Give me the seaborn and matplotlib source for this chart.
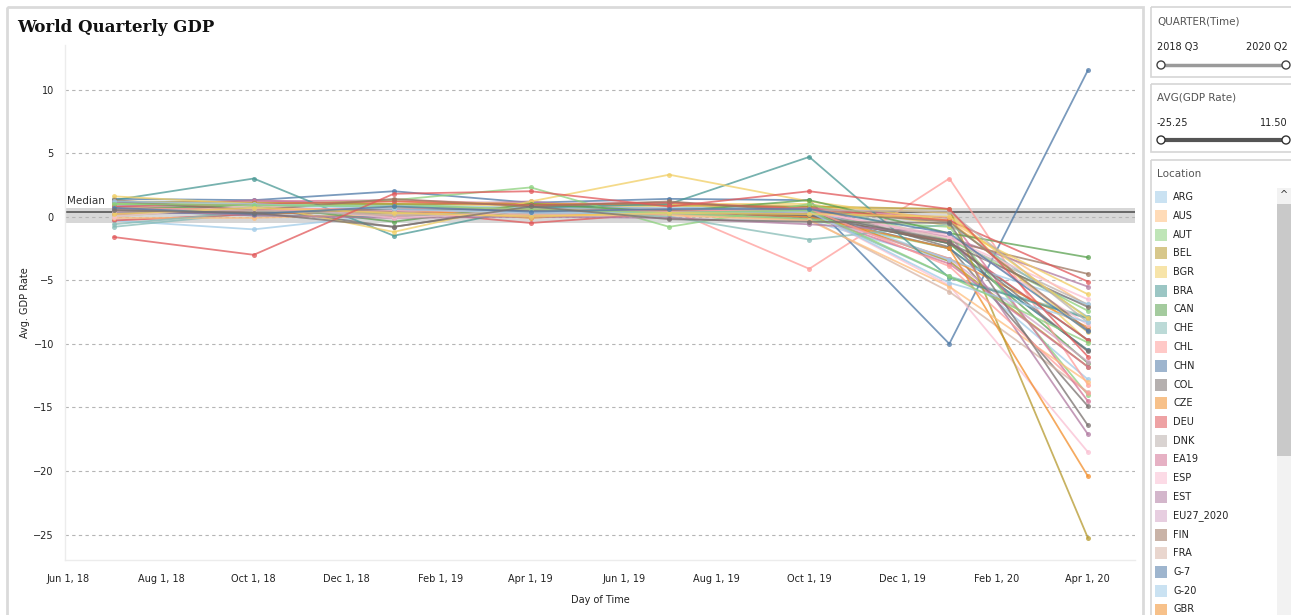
# World Quarterly GDP - Tableau style dashboard redrawn with seaborn
import numpy as np
import pandas as pd
import matplotlib
matplotlib.use('Agg')
import matplotlib.pyplot as plt
import matplotlib.dates as mdates
from matplotlib.patches import Rectangle, Circle
import seaborn as sns

# ---- data ----
quarters = ['2018-07-01', '2018-10-01', '2019-01-01', '2019-04-01',
            '2019-07-01', '2019-10-01', '2020-01-01', '2020-04-01']
quarter_labels = ['2018 Q3', '2018 Q4', '2019 Q1', '2019 Q2',
                  '2019 Q3', '2019 Q4', '2020 Q1', '2020 Q2']

locations = ['ARG', 'AUS', 'AUT', 'BEL', 'BGR', 'BRA', 'CAN', 'CHE', 'CHL', 'CHN',
             'COL', 'CZE', 'DEU', 'DNK', 'EA19', 'ESP', 'EST', 'EU27_2020', 'FIN', 'FRA',
             'G-7', 'G-20', 'GBR', 'GRC', 'HUN', 'IDN', 'IND', 'IRL', 'ISL', 'ISR',
             'ITA', 'JPN', 'KOR', 'LTU', 'LVA', 'MEX', 'NLD', 'NOR', 'OECD', 'POL',
             'PRT', 'RUS', 'SVK', 'SVN', 'SWE', 'TUR', 'USA', 'ZAF']

loc_colors = ['#a0cbe8', '#ffbe7d', '#8cd17d', '#b6992d', '#f1ce63', '#499894', '#59a14f', '#86bcb6', '#ff9d9a', '#4e79a7',
              '#79706e', '#f28e2b', '#e15759', '#bab0ac', '#d37295', '#fabfd2', '#b07aa1', '#d4a6c8', '#9d7660', '#d7b5a6',
              '#4e79a7', '#a0cbe8', '#f28e2b', '#8cd17d', '#d37295', '#f1ce63', '#b6992d', '#499894', '#f1ce63', '#8cd17d',
              '#ffbe7d', '#86bcb6', '#59a14f', '#e15759', '#79706e', '#b07aa1', '#fabfd2', '#fabfd2', '#79706e', '#9d7660',
              '#ff9d9a', '#bab0ac', '#a0cbe8', '#8cd17d', '#f1ce63', '#e15759', '#4e79a7', '#79706e']

# GDP rate per quarter, same order as locations
q3_2018 = [-0.3, 0.6, 0.4, 0.4, 0.7, 0.5, 0.6, -0.8, 0.4, 1.4,
           0.5, 0.5, -0.3, 0.8, 0.2, 0.5, 0.8, 0.3, 0.3, 0.4,
           0.4, 0.9, 0.6, 0.0, 1.1, 1.0, 1.2, 1.3, 1.6, 1.0,
           -0.1, -0.6, 0.6, 0.8, 1.2, 0.6, 0.4, 0.0, 0.5, 1.3,
           0.7, 0.5, 1.2, 1.0, 0.2, -1.6, 0.7, 0.5]
q4_2018 = [-1.0, 0.3, 0.5, 0.4, 0.8, 0.1, 0.3, 0.3, 1.0, 1.3,
           0.7, 0.7, 0.2, 0.4, 0.4, 0.6, 1.3, 0.3, 0.4, 0.6,
           0.2, 0.7, 0.2, 0.9, 1.2, 1.0, 1.1, 3.0, 1.0, 0.9,
           -0.1, 0.4, 0.9, 1.0, 0.5, 0.1, 0.5, 0.9, 0.3, 0.5,
           0.5, 0.5, 1.0, 0.9, 0.7, -3.0, 0.2, 0.3]
q1_2019 = [0.2, 0.5, 0.5, 0.3, 1.0, 0.0, 0.3, 0.6, 0.0, 2.0,
           -0.8, 0.5, 0.5, 0.3, 0.5, 0.6, 0.9, 0.5, 0.6, 0.5,
           0.6, 0.9, 0.6, 1.0, 1.3, 1.2, 1.0, -1.5, -1.2, 1.3,
           0.2, 0.6, -0.4, 1.2, 0.5, -0.1, 0.5, -0.1, 0.6, 1.4,
           0.7, 0.1, 0.6, 0.8, 0.3, 1.8, 0.8, -0.8]
q2_2019 = [0.6, 0.6, 0.1, 0.4, 0.8, 0.5, 0.8, 0.3, 0.9, 1.1,
           0.8, 0.5, -0.5, 0.7, 0.2, 0.4, 1.2, 0.2, 0.3, 0.2,
           0.4, 0.7, -0.1, 0.5, 1.0, 1.0, 1.0, 0.7, 1.2, 2.3,
           0.1, 0.5, 1.0, 0.9, 0.5, 0.0, 0.4, 0.4, 0.5, 0.8,
           0.6, 0.4, 0.3, 0.6, 0.0, 2.0, 0.4, 0.8]
q3_2019 = [0.9, 0.6, 0.2, 0.4, 0.8, 0.5, 0.3, 0.4, 0.6, 1.4,
           0.6, 0.4, 0.3, 0.6, 0.3, 0.4, 0.3, 0.3, 0.5, 0.2,
           0.4, 0.7, 0.5, 0.3, 1.1, 1.0, 0.9, 1.0, 3.3, -0.8,
           0.1, 0.0, 0.4, 1.1, 0.4, -0.1, 0.4, 0.6, 0.5, 1.2,
           0.4, 0.3, 0.3, 0.3, 0.3, 0.8, 0.6, -0.2]
q4_2019 = [-0.3, 0.5, -0.2, 0.5, 0.8, 0.4, 0.1, 0.3, -4.1, 1.3,
           0.8, 0.3, 0.0, 0.3, 0.1, 0.4, 0.4, 0.1, -0.1, -0.2,
           0.1, 0.7, 0.0, -0.2, 0.7, 1.0, 0.8, 4.7, 1.2, 1.0,
           -0.3, -1.8, 1.3, 0.6, 0.1, -0.6, 0.4, 0.5, 0.2, 0.4,
           0.6, 0.5, 0.4, 0.5, 0.2, 2.0, 0.6, -0.4]
q1_2020 = [-3.5, -0.3, -2.5, -3.5, 0.3, -2.1, -2.1, -4.7, 3.0, -10.0,
           -2.4, -3.3, -2.0, -1.8, -3.7, -5.4, -1.6, -3.3, -1.9, -5.9,
           -2.5, -3.4, -2.5, -0.8, -0.1, -0.7, 0.6, -4.8, -0.3, -1.8,
           -5.5, -0.6, -1.3, -0.3, -2.1, -1.3, -1.5, -1.7, -1.9, -0.4,
           -3.9, 0.4, -5.2, -4.7, 0.0, 0.6, -1.3, -0.5]
q2_2020 = [-12.8, -7.0, -10.5, -11.8, -9.8, -9.7, -11.5, -7.9, -13.2, 11.5,
           -14.9, -8.7, -9.7, -6.9, -11.8, -18.5, -5.5, -11.4, -4.5, -13.8,
           -10.5, -6.9, -20.4, -14.0, -14.5, -6.1, -25.25, -8.0, -9.1, -7.4,
           -13.0, -7.9, -3.2, -5.1, -7.1, -17.1, -8.5, -6.5, -10.6, -8.9,
           -13.9, -8.3, -8.3, -9.9, -8.0, -11.0, -9.0, -16.4]

# reference band drawn around the median
band_low = -0.47
band_high = 0.70

# ---- long-form table ----
series = [q3_2018, q4_2018, q1_2019, q2_2019, q3_2019, q4_2019, q1_2020, q2_2020]
rows = []
for qi, q in enumerate(quarters):
    for li, loc in enumerate(locations):
        rows.append({'Day of Time': pd.Timestamp(q), 'Location': loc, 'GDP Rate': series[qi][li]})
df = pd.DataFrame(rows)
palette = dict(zip(locations, loc_colors))
median_val = df['GDP Rate'].median()

sns.set_theme(style='white')
plt.rcParams['font.family'] = ['DejaVu Sans']

W, H = 1291, 615
fig = plt.figure(figsize=(W / 100, H / 100), dpi=100, facecolor='white')

# overlay axes in pixel coordinates for the dashboard frame and side cards
ov = fig.add_axes([0, 0, 1, 1], zorder=-1)
ov.set_xlim(0, W)
ov.set_ylim(H, 0)
ov.axis('off')

ov.add_patch(Rectangle((7, 7), 1136, 620, fill=False, edgecolor='#dadada', lw=2))

# main chart axes
left, right, top, bottom = 65, 1135, 45, 560
ax = fig.add_axes([left / W, (H - bottom) / H, (right - left) / W, (bottom - top) / H])

sns.lineplot(data=df, x='Day of Time', y='GDP Rate', hue='Location', hue_order=locations,
             palette=palette, marker='o', markersize=3.6, markeredgewidth=0,
             linewidth=1.3, alpha=0.75, legend=False, estimator=None, ax=ax)

ax.axhspan(band_low, band_high, color='#bdbdbd', alpha=0.6, lw=0, zorder=0.5)
ax.axhline(median_val, color='#555555', lw=1.2, zorder=0.6)
ax.text(0.002, median_val + 0.45, 'Median', transform=ax.get_yaxis_transform(),
        fontsize=7.5, color='#333333', ha='left', va='bottom')

ax.set_xlim(pd.Timestamp('2018-05-30'), pd.Timestamp('2020-05-02'))
ax.set_ylim(-27, 13.5)
ax.set_yticks([-25, -20, -15, -10, -5, 0, 5, 10])
ax.yaxis.grid(True, linestyle=(0, (3, 3)), color='#b5b5b5', lw=0.8)
ax.xaxis.grid(False)
ax.xaxis.set_major_locator(mdates.MonthLocator(bymonth=[2, 4, 6, 8, 10, 12]))
ax.xaxis.set_major_formatter(mdates.DateFormatter('%b %-d, %y'))
ax.tick_params(axis='both', length=0, labelsize=7, labelcolor='#222222')
ax.tick_params(axis='x', pad=10)
ax.tick_params(axis='y', pad=8)
for s in ['top', 'right']:
    ax.spines[s].set_visible(False)
for s in ['left', 'bottom']:
    ax.spines[s].set_color('#ececec')
    ax.spines[s].set_linewidth(1)

ax.set_xlabel('Day of Time', fontsize=7, color='#222222')
ax.set_ylabel('Avg. GDP Rate', fontsize=7, color='#222222')
ax.xaxis.set_label_coords(0.5, -0.068)
ax.yaxis.set_label_coords(-0.033, 0.5)

fig.text(17 / W, 1 - 28 / H, 'World Quarterly GDP', fontsize=12, fontweight='bold',
         family='DejaVu Serif', color='#111111', ha='left', va='center')

# ---- side cards ----
card_edge = '#d6d6d6'
hdr_color = '#555555'

# card 1: quarter filter
ov.add_patch(Rectangle((1151, 7), 145, 70, fill=False, edgecolor=card_edge, lw=1.2))
ov.text(1157, 22, 'QUARTER(Time)', fontsize=7.5, color=hdr_color, va='center')
ov.text(1157, 47, quarter_labels[0], fontsize=7, color='#222222', va='center')
ov.text(1288, 47, quarter_labels[-1], fontsize=7, color='#222222', va='center', ha='right')
ov.plot([1161, 1286], [65, 65], color='#9a9a9a', lw=2.5, solid_capstyle='butt')
for hx in (1161, 1286):
    ov.add_patch(Circle((hx, 65), 4, facecolor='white', edgecolor='#444444', lw=1, zorder=3))

# card 2: GDP rate filter
ov.add_patch(Rectangle((1151, 84), 145, 68, fill=False, edgecolor=card_edge, lw=1.2))
ov.text(1157, 98, 'AVG(GDP Rate)', fontsize=7.5, color=hdr_color, va='center')
ov.text(1157, 123, f"{df['GDP Rate'].min():.2f}", fontsize=7, color='#222222', va='center')
ov.text(1288, 123, f"{df['GDP Rate'].max():.2f}", fontsize=7, color='#222222', va='center', ha='right')
ov.plot([1161, 1286], [140, 140], color='#555555', lw=3, solid_capstyle='butt')
for hx in (1161, 1286):
    ov.add_patch(Circle((hx, 140), 4, facecolor='white', edgecolor='#333333', lw=1, zorder=3))

# card 3: colour legend with scrollbar
ov.add_patch(Rectangle((1151, 160), 145, 470, fill=False, edgecolor=card_edge, lw=1.2))
ov.text(1157, 174, 'Location', fontsize=7.5, color=hdr_color, va='center')
ov.add_patch(Rectangle((1277, 188), 14, 430, facecolor='#f2f2f2', edgecolor='none'))
ov.add_patch(Rectangle((1277, 204), 14, 252, facecolor='#c9c9c9', edgecolor='none'))
ov.text(1284, 195, '^', fontsize=7, color='#333333', ha='center', va='center')
step = 18.75
for i, (loc, col) in enumerate(zip(locations, loc_colors)):
    y = 197 + i * step
    if y > 620:
        break
    ov.add_patch(Rectangle((1155, y - 6), 12, 12, facecolor=col, alpha=0.55, edgecolor='none'))
    ov.text(1173, y, loc, fontsize=7, color='#222222', va='center')

fig.savefig('out.png', dpi=100)
